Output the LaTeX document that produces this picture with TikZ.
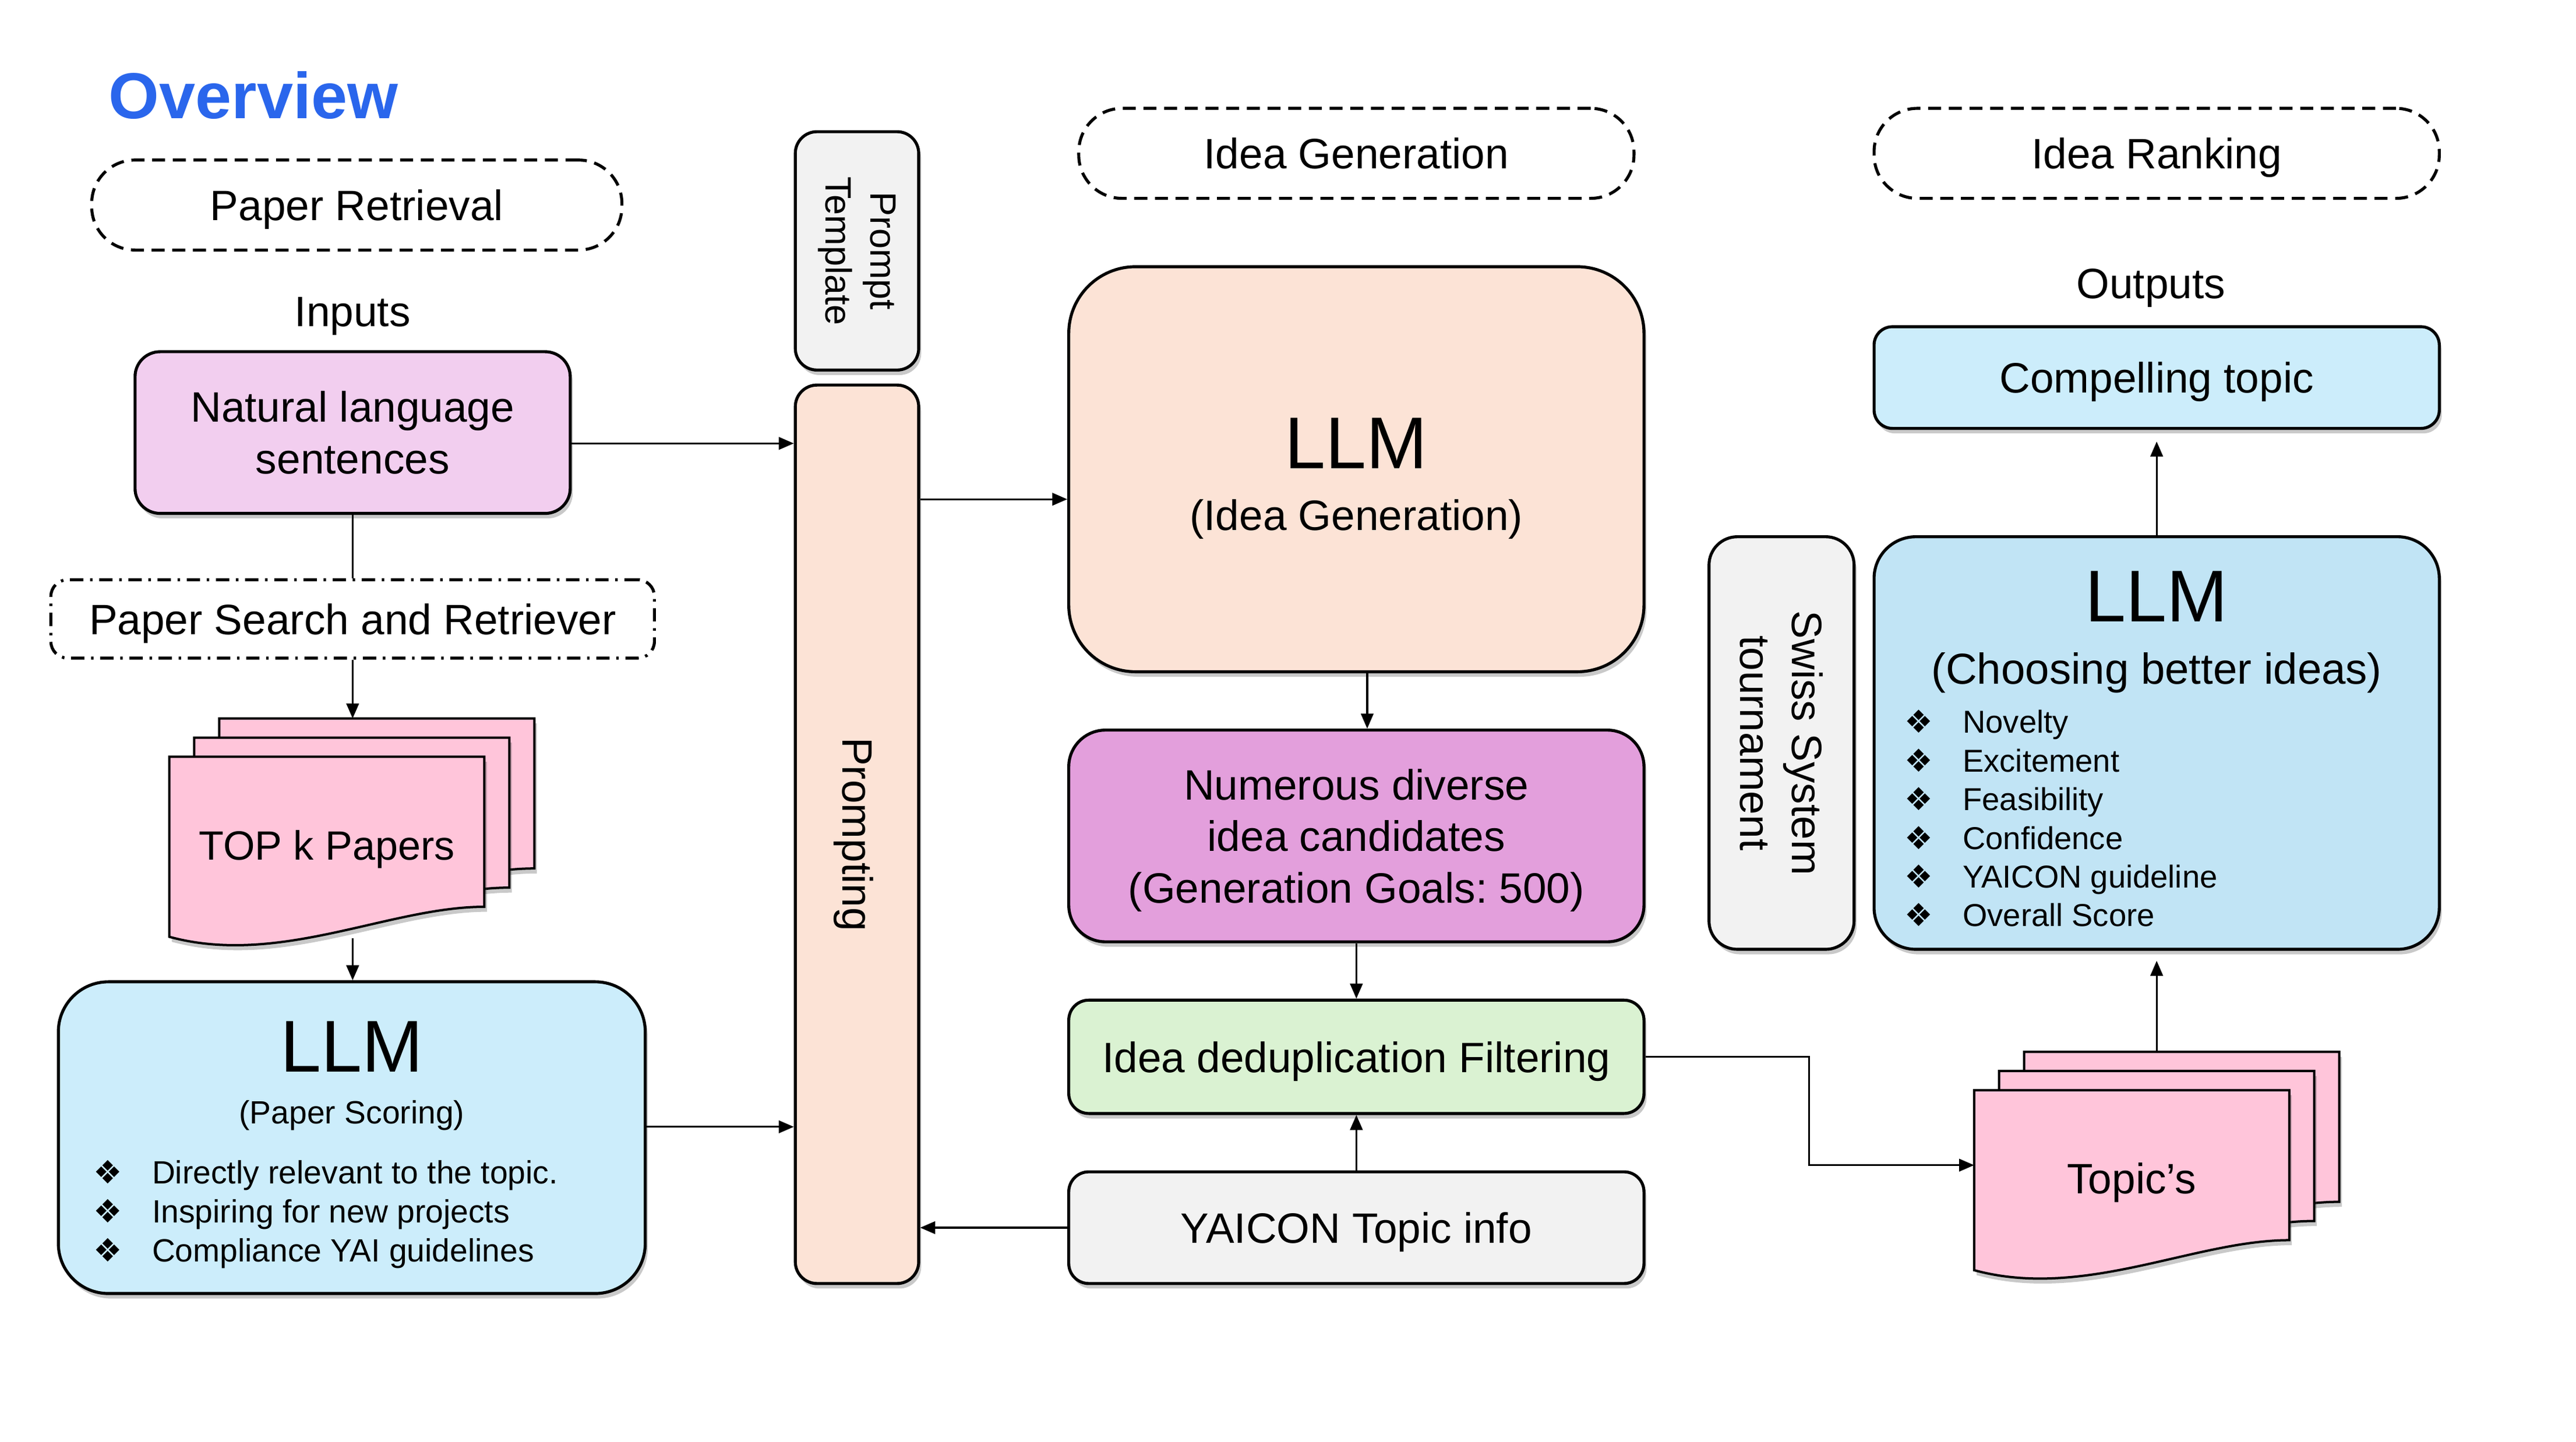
\documentclass[tikz,border=0pt]{standalone}
\usepackage{fontspec}
\setmainfont{Liberation Sans}
\newfontfamily\symfont{DejaVu Sans}
\usetikzlibrary{positioning,shadows,arrows.meta}
\frenchspacing

\definecolor{nlpink}{HTML}{F2CEEF}
\definecolor{scoreblue}{HTML}{CCEDFB}
\definecolor{docpink}{HTML}{FFC5DA}
\definecolor{peach}{HTML}{FCE3D6}
\definecolor{tplgray}{HTML}{F2F2F2}
\definecolor{orchid}{HTML}{E39FDC}
\definecolor{mint}{HTML}{DAF2D2}
\definecolor{rankblue}{HTML}{C1E4F5}
\definecolor{ovblue}{HTML}{2A66EC}

\newcommand{\fsz}[2]{\fontsize{#1}{#2}\selectfont}
\newcommand{\dia}{\makebox[35pt][l]{\symfont ❖}}
% one page of a document stack, top left corner at (#1,#2)
\newcommand{\docpage}[2]{%
  \begin{scope}[shift={(#1,#2)}]
    \draw[doc] (0,0) -- (189,0) -- (189,90) .. controls (132,90) and (66,126) .. (0,108) -- cycle;
  \end{scope}}

\begin{document}
\begin{tikzpicture}[x=1pt,y=-1pt,
    box/.style={draw, line width=1.8pt, rounded corners=#1, align=center, inner sep=0pt, text depth=0pt,
      font=\fsz{25.5}{31}, drop shadow={shadow xshift=1.5pt, shadow yshift=-3pt, opacity=.3, fill=black!70}},
    box/.default=12pt,
    phase/.style={draw, line width=1.8pt, dash pattern=on 7.8pt off 4.6pt, rounded corners=26pt,
      minimum height=54pt, inner sep=0pt, text depth=0pt, font=\fsz{25.5}{31}},
    doc/.style={draw, fill=docpink, line width=1.4pt,
      drop shadow={shadow xshift=1.5pt, shadow yshift=-3pt, opacity=.3, fill=black!70}},
    arr/.style={-{Triangle[length=9pt,width=7.5pt]}, line width=1.1pt},
    lbl/.style={font=\fsz{25.5}{31}, align=center, inner sep=0pt},
    flat/.style={text depth=0pt},
    big/.style={font=\fsz{44}{50}, inner sep=0pt},
    items/.style={font=\fsz{19.3}{23.4}, align=left, inner sep=0pt, anchor=west}]
\useasboundingbox (0,0) rectangle (1545,864.75);

% paper retrieval
\node[anchor=west, inner sep=0pt, font=\fsz{39}{44}\bfseries, text=ovblue] (overview) at (65,57) {Overview};
\node[phase, minimum width=318] (retr) at (214,123) {Paper Retrieval};
\node[lbl, flat] (inputs) at (211.5,187) {Inputs};
\node[box=15pt, fill=nlpink, minimum width=261, minimum height=97] (nl) at (211.5,259.5) {Natural language\\sentences};
\node[draw, line width=1.8pt, dash pattern=on 8pt off 4pt on 1.5pt off 4pt, rounded corners=10pt, text depth=0pt,
  minimum width=362, minimum height=47, inner sep=0pt, font=\fsz{25.5}{31}, below=38pt of nl] (search) {Paper Search and Retriever};

\docpage{131.5}{431}
\docpage{116.5}{442.5}
\docpage{101.5}{454}
\node[flat, font=\fsz{24.5}{30}, inner sep=0pt] (topk) at (196,507) {TOP k Papers};
\coordinate (topkin) at (211.5,431);
\coordinate (topkout) at (211.5,563);

\node[box=30pt, fill=scoreblue, minimum width=352, minimum height=187] (scoring) at (211,682.5) {};
\node[big] (scllm) at (211,628) {LLM};
\node[flat, font=\fsz{19.3}{23}, inner sep=0pt] (scsub) at (211,667) {(Paper Scoring)};
\node[items] (scitems) at (56,728.6) {\dia Directly relevant to the topic.\\\dia Inspiring for new projects\\\dia Compliance YAI guidelines};

% prompting
\node[box=13pt, fill=tplgray, minimum width=74, minimum height=143] (tpl) at (514,150.5) {};
\node[font=\fsz{22}{27}, align=center, rotate=-90, inner sep=0pt] (tpltxt) at (tpl) {Prompt\\Template};
\node[box=13pt, fill=peach, minimum width=74, minimum height=539] (prompting) at (514,500.5) {};
\node[lbl, rotate=-90] (prtxt) at (512,500.5) {Prompting};

% idea generation
\node[phase, minimum width=333] (genphase) at (813.5,92) {Idea Generation};
\node[box=40pt, fill=peach, minimum width=345, minimum height=243] (idea) at (813.5,281.5) {};
\node[big] (idllm) at (813.5,266) {LLM};
\node[lbl, flat] (idsub) at (813.5,309) {(Idea Generation)};
\node[box=22pt, fill=orchid, minimum width=345, minimum height=127] (cands) at (813.5,501.5) {Numerous diverse\\idea candidates\\(Generation Goals: 500)};
\node[box, fill=mint, minimum width=345, minimum height=68] (dedup) at (813.5,634) {Idea deduplication Filtering};
\node[box, fill=tplgray, minimum width=345, minimum height=67] (yaicon) at (813.5,736.5) {YAICON Topic info};

% idea ranking
\node[phase, minimum width=339] (rankphase) at (1293.5,92) {Idea Ranking};
\node[lbl, flat] (outputs) at (1290,170) {Outputs};
\node[box=11pt, fill=scoreblue, minimum width=339, minimum height=61] (compelling) at (1293.5,226.5) {Compelling topic};
\node[box=17pt, fill=tplgray, minimum width=87, minimum height=247.5] (swiss) at (1068.5,445.75) {};
\node[lbl, rotate=-90] (swtxt) at (swiss) {Swiss System\\tournament};
\node[box=25pt, fill=rankblue, minimum width=339, minimum height=247.5] (ranking) at (1293.5,445.75) {};
\node[big] (rkllm) at (1293.5,358) {LLM};
\node[flat, font=\fsz{26}{31}, inner sep=0pt] (rksub) at (1293.5,401) {(Choosing better ideas)};
\node[items, font=\fsz{19}{23.2}] (rkitems) at (1142,491) {\dia Novelty\\\dia Excitement\\\dia Feasibility\\\dia Confidence\\\dia YAICON guideline\\\dia Overall Score};

\docpage{1214}{631}
\docpage{1199}{642.5}
\docpage{1184}{654}
\node[flat, font=\fsz{25.5}{31}, inner sep=0pt] (topics) at (1278.5,707) {Topic’s};
\coordinate (topicsin) at (1184,699);
\coordinate (topicsout) at (1293.5,631);
\coordinate (bend) at (1085,699);

% connectors
\coordinate (nlout) at ([yshift=-6.5pt]nl.east);
\coordinate (scout) at ([yshift=6.5pt]scoring.east);
\coordinate (ideain) at ([yshift=-18pt]idea.west);
\coordinate (candin) at ([xshift=6.5pt]idea.south);
\draw[line width=1.1pt] (nl.south) -- (search.north);
\draw[arr] (search.south) -- (topkin);
\draw[arr] (topkout) -- (topkout |- scoring.north);
\draw[arr] (nlout) -- (nlout -| prompting.west);
\draw[arr] (scout) -- (scout -| prompting.west);
\draw[arr] (ideain -| prompting.east) -- (ideain);
\draw[arr] (yaicon.west) -- (yaicon.west -| prompting.east);
\draw[arr] (candin) -- (candin |- cands.north);
\draw[arr] (cands.south) -- (dedup.north);
\draw[arr] (yaicon.north) -- (dedup.south);
\draw[arr] (dedup.east) -| (bend) -- (topicsin);
\draw[arr, shorten >=6pt] (topicsout) -- (ranking.south);
\draw[arr, shorten >=7pt] (ranking.north) -- (compelling.south);
\end{tikzpicture}
\end{document}
